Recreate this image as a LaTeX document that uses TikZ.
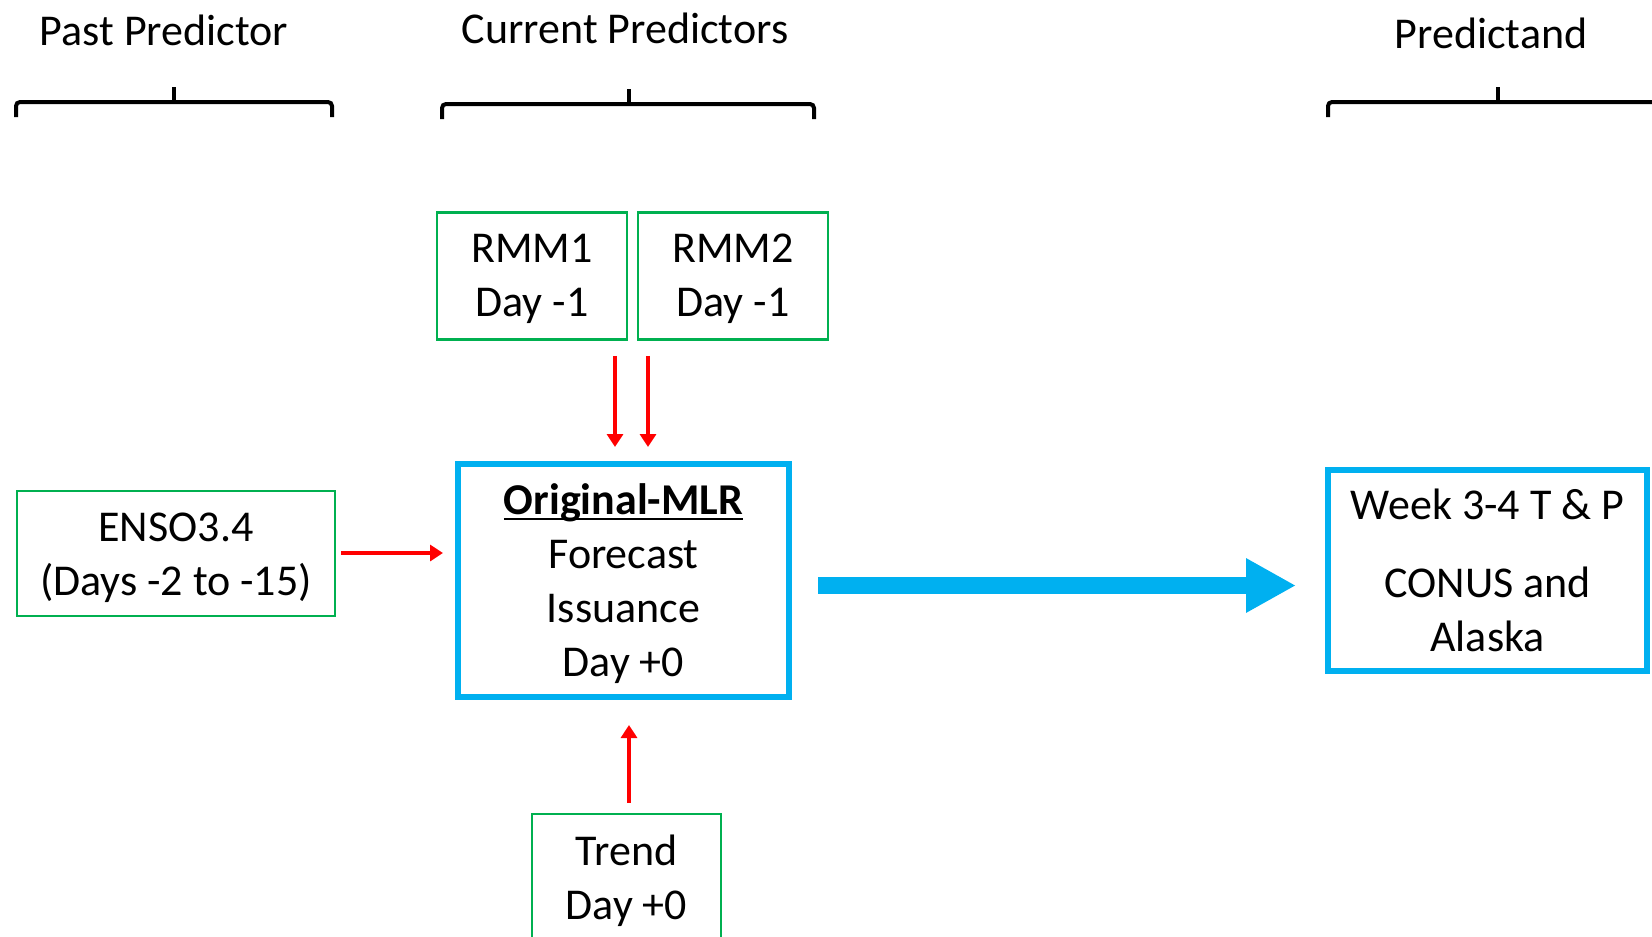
\documentclass[tikz,border=0pt]{standalone}
\usepackage{fontspec}
\setmainfont{Carlito}
\usetikzlibrary{arrows.meta,calc}
\definecolor{boxgreen}{HTML}{00B050}
\definecolor{boxcyan}{HTML}{00B0F0}
\definecolor{arrred}{HTML}{FF0000}
\newcommand\tstr[1]{\rule{0pt}{#1}}
\newsavebox\myulbox
\newcommand\myul[1]{\sbox\myulbox{#1}\rlap{\usebox\myulbox}\rule[-5.5pt]{\wd\myulbox}{2.5pt}}
\tikzset{
  txt/.style={font=\fontsize{44}{54}\selectfont, align=center, inner sep=0pt},
  greenbox/.style={txt, draw=boxgreen, line width=2.5pt},
  cyanbox/.style={txt, draw=boxcyan, line width=6pt},
  redarrow/.style={draw=arrred, line width=3.5pt, -{Triangle[length=13pt,width=16pt]}},
  bigarrow/.style={draw=boxcyan, line width=17pt, -{Triangle[length=50pt,width=51pt]}},
  bracket/.style={draw=black, line width=4pt, rounded corners=4pt},
  tick/.style={draw=black, line width=4pt},
  title/.style={font=\fontsize{44}{54}\selectfont, inner sep=0pt}
}
\begin{document}
\begin{tikzpicture}[x=1pt,y=-1pt]
\useasboundingbox (0,0) rectangle (1652,937);
\clip (0,0) rectangle (1652,937);

% titles
\node[title] (tpast) at (164,30) {Past Predictor};
\node[title] (tcur) at (625,28) {Current Predictors};
\node[title] (tpred) at (1491,33) {Predictand};

% brackets
\draw[bracket] (16,117) -- (16,102) -- (332,102) -- (332,117);
\draw[tick] (174,102) -- (174,87);
\draw[bracket] (442,119) -- (442,104) -- (814,104) -- (814,119);
\draw[tick] (629,104) -- (629,89);
\draw[bracket] (1328,117) -- (1328,102) -- (1690,102) -- (1690,117);
\draw[tick] (1498,102) -- (1498,87);

% boxes
\node[greenbox, minimum width=190pt, minimum height=127pt] (rmm1) at (532,276) {\tstr{35pt}RMM1\\Day -1};
\node[greenbox, minimum width=190pt, minimum height=127pt] (rmm2) at (733,276) {\tstr{35pt}RMM2\\Day -1};
\node[greenbox, minimum width=318pt, minimum height=125pt] (enso) at (176,553.5) {\tstr{37pt}ENSO3.4\\(Days -2 to -15)};
\node[cyanbox, minimum width=331pt, minimum height=233pt] (mlr) at (623.5,580.5)
  {\tstr{38pt}\myul{\textbf{Original-MLR}}\\Forecast\\Issuance\\Day +0};
\node[cyanbox, minimum width=319pt, minimum height=201pt] (week) at (1487.5,570.5)
  {Week 3-4 T \& P\\[24pt]CONUS and\\Alaska};
\node[greenbox, minimum width=189pt, minimum height=128pt] (trend) at (626.5,878) {\tstr{37pt}Trend\\Day +0};

% connectors
\draw[redarrow, shorten <=15pt, shorten >=14pt] ([xshift=-8.5pt]mlr.north |- rmm1.south) -- ([xshift=-8.5pt]mlr.north);
\draw[redarrow, shorten <=15pt, shorten >=14pt] ([xshift=24.5pt]mlr.north |- rmm2.south) -- ([xshift=24.5pt]mlr.north);
\draw[redarrow, shorten <=5pt, shorten >=12pt] ([yshift=0.5pt]enso.east) -- ([yshift=0.5pt]enso.east -| mlr.west);
\draw[redarrow, shorten <=10pt, shorten >=25pt] ([xshift=2.5pt]trend.north) -- ([xshift=2.5pt]trend.north |- mlr.south);
\coordinate (bigy) at (0,585.5);
\draw[bigarrow, shorten <=26pt, shorten >=29pt] (mlr.east |- bigy) -- (week.west |- bigy);
\end{tikzpicture}
\end{document}
